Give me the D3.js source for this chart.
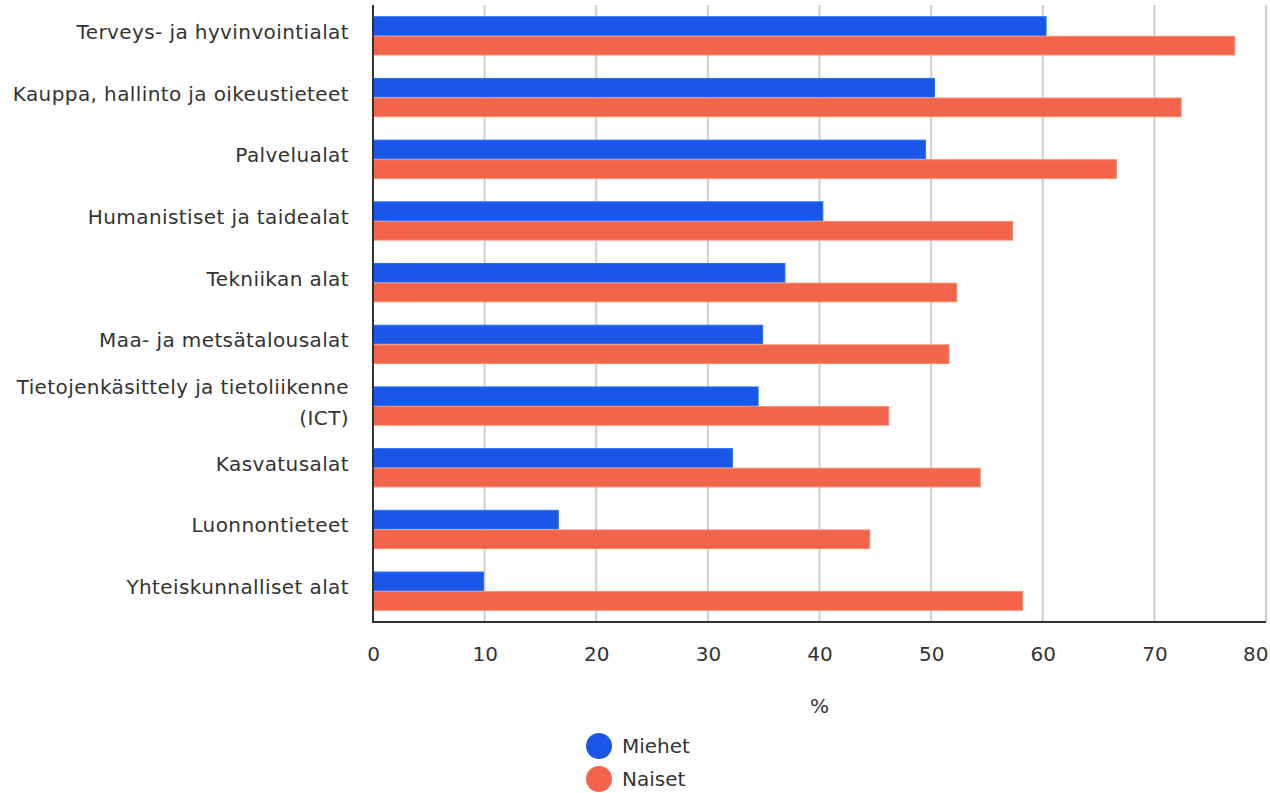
<!DOCTYPE html>
<html>
<head>
<meta charset="utf-8">
<script src="https://cdn.jsdelivr.net/npm/d3@7"></script>
<style>
  body { margin: 0; background: #fff; }
  text { font-family: "DejaVu Sans", Verdana, sans-serif; fill: #333; }
</style>
</head>
<body>
<svg id="chart" width="1270" height="793"></svg>
<script>
const categories = [
  'Terveys- ja hyvinvointialat',
  'Kauppa, hallinto ja oikeustieteet',
  'Palvelualat',
  'Humanistiset ja taidealat',
  'Tekniikan alat',
  'Maa- ja metsätalousalat',
  'Tietojenkäsittely ja tietoliikenne (ICT)',
  'Kasvatusalat',
  'Luonnontieteet',
  'Yhteiskunnalliset alat'
];
const miehet = [60.3, 50.3, 49.5, 40.3, 36.9, 34.9, 34.5, 32.2, 16.6, 9.9];
const naiset = [77.2, 72.4, 66.6, 57.3, 52.3, 51.6, 46.2, 54.4, 44.5, 58.2];
const seriesNames = ['Miehet', 'Naiset'];
const seriesColors = ['#1a56e8', '#f2654c'];
const xTicks = [0, 10, 20, 30, 40, 50, 60, 70, 80];

const svg = d3.select('#chart');
const margin = {top: 5, right: 4, bottom: 171, left: 373};
const width = 1270 - margin.left - margin.right;
const height = 793 - margin.top - margin.bottom;
const fontSize = '20px';

const x = d3.scaleLinear().domain([0, 80]).range([0, width]);
const y = d3.scaleBand().domain(categories).range([0, height]).paddingInner(0.38).paddingOuter(0.19);
const ySub = d3.scaleBand().domain(seriesNames).range([0, y.bandwidth()]).paddingInner(0.05);

const g = svg.append('g').attr('transform', `translate(${margin.left},${margin.top})`);

// grid lines
g.append('g')
  .selectAll('line')
  .data(xTicks.slice(1))
  .join('line')
  .attr('x1', d => x(d)).attr('x2', d => x(d))
  .attr('y1', 0).attr('y2', height)
  .attr('stroke', '#cfcfcf')
  .attr('stroke-width', 2);

// bars
const rows = categories.map((c, i) => ({cat: c, values: [miehet[i], naiset[i]]}));
const row = g.selectAll('g.row').data(rows).join('g')
  .attr('class', 'row')
  .attr('transform', d => `translate(0,${y(d.cat)})`);

row.selectAll('rect')
  .data(d => d.values.map((v, j) => ({name: seriesNames[j], value: v, color: seriesColors[j]})))
  .join('rect')
  .attr('x', 0)
  .attr('y', d => ySub(d.name))
  .attr('width', d => x(d.value))
  .attr('height', ySub.bandwidth())
  .attr('fill', d => d.color)
  .attr('stroke', d => d3.color(d.color).brighter(0.8))
  .attr('stroke-width', 1);

// axes lines
g.append('line').attr('x1', 0).attr('x2', 0).attr('y1', 0).attr('y2', height)
  .attr('stroke', '#333').attr('stroke-width', 2);
g.append('line').attr('x1', -1).attr('x2', width).attr('y1', height).attr('y2', height)
  .attr('stroke', '#333').attr('stroke-width', 2);

// x axis tick labels
const xAxis = d3.axisBottom(x).tickValues(xTicks).tickSize(0).tickPadding(25);
const xg = g.append('g').attr('transform', `translate(0,${height})`).call(xAxis);
xg.select('.domain').remove();
xg.selectAll('text').style('font-size', fontSize).attr('fill', '#333');
// keep the last label inside the frame
xg.selectAll('.tick').filter(d => d === xTicks[xTicks.length - 1])
  .select('text').attr('text-anchor', 'end').attr('x', 2);

// axis title
g.append('text')
  .attr('x', width / 2)
  .attr('y', height + 91)
  .attr('text-anchor', 'middle')
  .style('font-size', fontSize)
  .text('%');

// category labels with wrapping
const maxLabelWidth = 345;
const labels = g.append('g');
categories.forEach(c => {
  const t = labels.append('text')
    .attr('text-anchor', 'end')
    .attr('x', -24)
    .style('font-size', fontSize)
    .style('letter-spacing', '0.4px');
  const words = c.split(' ');
  const lines = [];
  let line = [];
  const tmp = t.append('tspan');
  words.forEach(w => {
    line.push(w);
    tmp.text(line.join(' '));
    if (tmp.node().getComputedTextLength() > maxLabelWidth && line.length > 1) {
      line.pop();
      lines.push(line.join(' '));
      line = [w];
    }
  });
  lines.push(line.join(' '));
  tmp.remove();
  const lh = 31;
  const cy = y(c) + y.bandwidth() / 2 - 4;
  lines.forEach((l, i) => {
    t.append('tspan')
      .attr('x', -24)
      .attr('y', cy + (i - (lines.length - 1) / 2) * lh)
      .attr('dy', '0.35em')
      .text(l);
  });
});

// legend
const legend = svg.append('g').attr('transform', 'translate(599,746)');
seriesNames.forEach((s, i) => {
  const lg = legend.append('g').attr('transform', `translate(0,${i * 33})`);
  lg.append('circle').attr('r', 13).attr('fill', seriesColors[i]);
  lg.append('text').attr('x', 23).attr('dy', '0.35em').style('font-size', fontSize).text(s);
});
</script>
</body>
</html>
